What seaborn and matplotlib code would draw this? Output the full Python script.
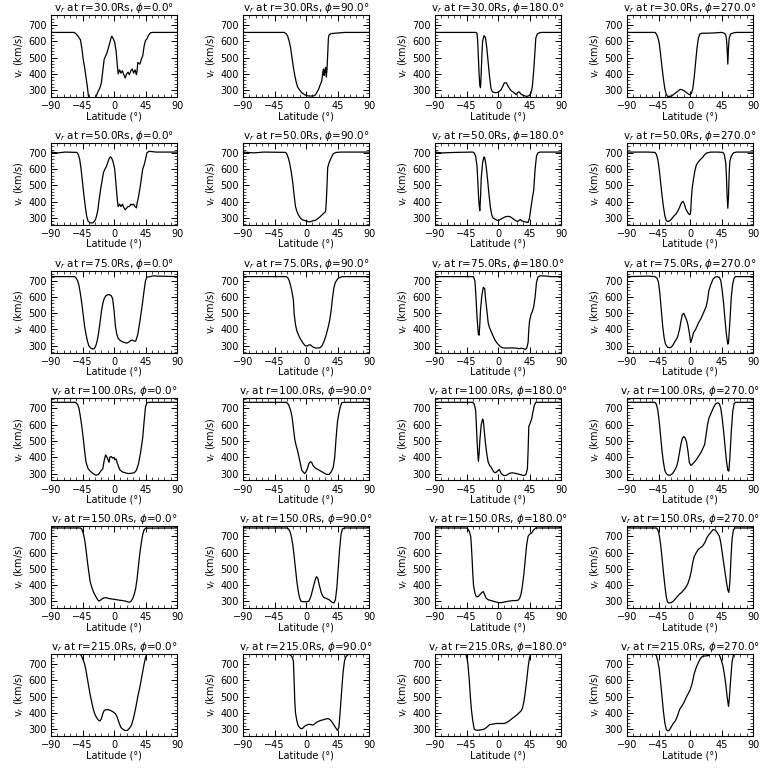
import matplotlib
matplotlib.use("Agg")
import pandas as pd
import matplotlib.pyplot as plt
from matplotlib.ticker import MultipleLocator
import seaborn as sns

# radial speed profiles vs latitude, one list of (latitude, v_r) per panel
radii = [30.0, 50.0, 75.0, 100.0, 150.0, 215.0]
phis = [0.0, 90.0, 180.0, 270.0]

r30_p0 = [(-90, 655), (-57, 655), (-54, 645), (-51, 630), (-48, 610), (-46, 560), (-44, 490), (-42, 440),
          (-40, 380), (-38, 320), (-36.5, 262), (-33, 235), (-28, 235), (-25.5, 262), (-23, 290), (-20, 315),
          (-18, 345), (-16, 420), (-14, 490), (-12, 510), (-10, 530), (-8, 560), (-6, 590), (-4, 625), (-3, 632),
          (-1, 615), (1, 595), (3, 540), (5, 440), (6, 400), (8, 425), (10, 405), (12, 420), (14, 395), (16, 375),
          (18, 400), (20, 410), (22, 395), (24, 420), (26, 430), (28, 405), (30, 425), (32, 395), (33, 420),
          (34, 470), (37, 460), (39, 490), (41, 510), (43, 570), (45, 605), (47, 615), (49, 635), (52, 652),
          (55, 655), (90, 655)]
r30_p90 = [(-90, 655), (-31, 655), (-28, 645), (-26, 630), (-24, 600), (-22, 560), (-20, 500), (-18, 440),
           (-16, 390), (-14, 350), (-12, 320), (-9, 300), (-6, 285), (-3, 275), (0, 268), (3, 265), (6, 264),
           (9, 264), (12, 266), (14, 275), (16, 290), (18, 305), (20, 330), (22, 350), (23, 370), (24, 410),
           (25, 430), (26, 390), (27, 420), (28, 440), (29, 380), (30, 430), (31, 520), (32, 620), (33, 640),
           (36, 648), (42, 650), (55, 655), (90, 655)]
r30_p180 = [(-90, 655), (-32, 655), (-30, 650), (-29, 600), (-28, 500), (-27, 400), (-26, 330), (-25, 315),
            (-24, 400), (-23, 520), (-22, 600), (-20, 635), (-18, 625), (-16, 560), (-14, 470), (-12, 380),
            (-10, 310), (-8, 290), (-5, 285), (-2, 285), (1, 290), (4, 300), (7, 325), (9, 345), (12, 345),
            (15, 320), (18, 300), (21, 290), (24, 280), (26, 272), (28, 285), (30, 290), (32, 280), (34, 272),
            (36, 268), (38, 265), (41, 262), (44, 265), (47, 280), (49, 320), (51, 420), (53, 550), (54, 620),
            (56, 645), (59, 652), (62, 655), (90, 655)]
r30_p270 = [(-90, 655), (-50, 655), (-48, 645), (-46, 625), (-44, 590), (-42, 520), (-40, 440), (-38, 370),
            (-36, 310), (-34, 275), (-32, 262), (-29, 262), (-26, 265), (-23, 275), (-20, 285), (-17, 295),
            (-14, 305), (-11, 302), (-8, 295), (-5, 285), (-2, 275), (0, 272), (2, 280), (4, 310), (6, 380),
            (8, 470), (10, 560), (12, 620), (14, 645), (17, 650), (25, 650), (35, 652), (45, 655), (49, 650),
            (51, 640), (52, 620), (53, 560), (54, 460), (55, 560), (56, 620), (58, 645), (62, 652), (66, 655),
            (90, 655)]

r50_p0 = [(-90, 705), (-80, 700), (-70, 705), (-53, 703), (-51, 690), (-49, 660), (-47, 600), (-45, 520),
          (-43, 440), (-41, 370), (-39, 310), (-37, 280), (-34, 270), (-30, 270), (-27, 285), (-25, 310),
          (-23, 350), (-21, 420), (-19, 480), (-17, 530), (-15, 580), (-13, 600), (-11, 615), (-9, 640),
          (-7, 665), (-5, 676), (-3, 665), (-1, 640), (1, 600), (3, 500), (5, 400), (6, 370), (8, 385), (10, 370),
          (12, 385), (14, 365), (16, 350), (18, 360), (20, 370), (22, 370), (24, 385), (26, 380), (28, 385),
          (30, 370), (32, 362), (33, 390), (35, 430), (37, 480), (39, 540), (41, 600), (43, 625), (45, 660),
          (47, 700), (50, 710), (60, 705), (90, 705)]
r50_p90 = [(-90, 705), (-75, 700), (-60, 705), (-29, 703), (-27, 690), (-25, 665), (-23, 630), (-21, 580),
           (-19, 520), (-17, 440), (-15, 370), (-13, 340), (-11, 320), (-8, 300), (-5, 288), (-2, 285), (1, 280),
           (4, 276), (7, 278), (10, 283), (13, 285), (16, 293), (19, 303), (22, 315), (25, 328), (28, 340),
           (29, 400), (30, 500), (31, 610), (33, 640), (36, 670), (39, 695), (43, 703), (50, 705), (90, 705)]
r50_p180 = [(-90, 705), (-80, 700), (-60, 703), (-36, 705), (-34, 700), (-32, 680), (-30, 620), (-29, 540),
            (-28, 450), (-27, 380), (-26, 345), (-25, 420), (-24, 540), (-22, 640), (-20, 675), (-19, 670),
            (-17, 620), (-15, 540), (-13, 450), (-11, 370), (-9, 320), (-7, 300), (-4, 292), (-1, 285), (2, 287),
            (5, 295), (8, 302), (11, 308), (14, 310), (17, 308), (20, 300), (23, 290), (26, 282), (28, 278),
            (30, 285), (32, 290), (34, 282), (37, 278), (40, 275), (43, 272), (45, 300), (47, 360), (49, 420),
            (51, 470), (53, 600), (55, 680), (57, 700), (60, 705), (90, 705)]
r50_p270 = [(-90, 705), (-60, 705), (-50, 703), (-48, 690), (-46, 660), (-44, 600), (-42, 520), (-40, 440),
            (-38, 370), (-36, 315), (-34, 285), (-32, 278), (-29, 282), (-26, 295), (-23, 312), (-20, 325),
            (-17, 345), (-14, 375), (-12, 395), (-10, 402), (-8, 385), (-6, 355), (-4, 340), (-2, 325), (0, 320),
            (1, 340), (2, 420), (3, 480), (5, 540), (7, 590), (9, 625), (12, 645), (15, 660), (18, 672),
            (21, 690), (24, 700), (30, 705), (40, 705), (47, 703), (49, 690), (51, 640), (52, 560), (53, 440),
            (54, 360), (55, 430), (56, 580), (57, 650), (59, 680), (62, 700), (66, 705), (90, 705)]

r75_p0 = [(-90, 725), (-56, 725), (-54, 715), (-52, 700), (-50, 670), (-48, 620), (-46, 560), (-44, 490),
          (-42, 420), (-40, 370), (-38, 330), (-36, 300), (-33, 285), (-30, 280), (-28, 283), (-26, 300),
          (-24, 330), (-22, 380), (-20, 440), (-18, 510), (-16, 560), (-14, 590), (-12, 605), (-10, 612),
          (-7, 615), (-4, 608), (-2, 590), (0, 520), (2, 420), (4, 370), (6, 345), (9, 332), (12, 325),
          (15, 320), (18, 316), (21, 322), (24, 333), (26, 335), (28, 330), (31, 328), (34, 370), (37, 450),
          (40, 540), (43, 640), (45, 700), (47, 722), (52, 725), (56, 730), (62, 728), (90, 725)]
r75_p90 = [(-90, 725), (-28, 725), (-26, 718), (-24, 700), (-22, 670), (-20, 630), (-18, 580), (-17, 500),
           (-15, 430), (-13, 390), (-11, 370), (-9, 350), (-7, 335), (-4, 315), (-1, 300), (2, 298), (4, 305),
           (6, 306), (8, 300), (10, 292), (13, 287), (17, 286), (20, 288), (23, 300), (26, 330), (29, 370),
           (32, 420), (34, 460), (36, 520), (38, 600), (40, 660), (42, 690), (45, 710), (48, 720), (52, 725),
           (90, 725)]
r75_p180 = [(-90, 725), (-35, 725), (-33, 700), (-32, 640), (-31, 560), (-30, 480), (-29, 420), (-28, 370),
            (-27, 365), (-26, 430), (-25, 520), (-23, 610), (-21, 660), (-19, 650), (-18, 600), (-16, 520),
            (-14, 440), (-12, 410), (-10, 390), (-8, 370), (-5, 340), (-2, 320), (1, 305), (4, 293), (7, 287),
            (10, 286), (15, 286), (20, 287), (25, 286), (28, 284), (30, 282), (33, 285), (36, 282), (39, 278),
            (41, 285), (43, 320), (44, 400), (45, 450), (47, 490), (49, 510), (51, 540), (53, 600), (55, 690),
            (57, 722), (60, 730), (70, 728), (75, 725), (90, 725)]
r75_p270 = [(-90, 725), (-60, 728), (-50, 725), (-47, 715), (-45, 690), (-43, 620), (-41, 520), (-39, 420),
            (-37, 350), (-35, 310), (-32, 290), (-28, 288), (-25, 300), (-21, 330), (-18, 350), (-15, 400),
            (-13, 450), (-11, 490), (-9, 500), (-7, 480), (-5, 460), (-3, 430), (-1, 380), (1, 320), (3, 345),
            (5, 380), (8, 400), (12, 440), (16, 470), (20, 510), (23, 540), (25, 580), (27, 640), (30, 680),
            (33, 710), (36, 722), (39, 725), (42, 720), (44, 700), (46, 640), (48, 560), (50, 460), (52, 370),
            (54, 310), (55, 320), (57, 450), (59, 600), (61, 680), (63, 715), (65, 725), (90, 725)]

r100_p0 = [(-90, 738), (-55, 738), (-52, 725), (-50, 700), (-48, 650), (-46, 590), (-44, 520), (-42, 440),
           (-40, 370), (-37, 330), (-34, 315), (-30, 300), (-26, 290), (-22, 295), (-19, 315), (-16, 330),
           (-14, 380), (-12, 415), (-10, 400), (-8, 380), (-7, 370), (-6, 400), (-4, 405), (-2, 395), (0, 400),
           (1, 385), (3, 390), (5, 360), (8, 325), (12, 310), (16, 305), (20, 300), (25, 302), (29, 305),
           (32, 320), (35, 360), (38, 430), (41, 520), (43, 620), (45, 710), (47, 735), (50, 738), (90, 738)]
r100_p90 = [(-90, 738), (-28, 738), (-25, 725), (-22, 690), (-20, 650), (-18, 580), (-16, 510), (-14, 470),
            (-12, 440), (-10, 400), (-8, 360), (-6, 320), (-4, 310), (-2, 300), (0, 310), (2, 330), (4, 360),
            (6, 372), (8, 370), (10, 350), (13, 335), (17, 325), (21, 315), (25, 305), (29, 295), (33, 295),
            (36, 310), (39, 340), (41, 400), (43, 520), (45, 620), (47, 670), (49, 710), (51, 735), (54, 738),
            (90, 738)]
r100_p180 = [(-90, 738), (-36, 738), (-34, 728), (-32, 690), (-31, 610), (-30, 510), (-29, 430), (-28, 375),
             (-27, 420), (-26, 500), (-24, 600), (-22, 635), (-21, 625), (-20, 580), (-18, 490), (-16, 420),
             (-14, 370), (-12, 350), (-10, 340), (-8, 325), (-6, 310), (-4, 305), (-2, 310), (0, 318), (2, 325),
             (4, 305), (6, 295), (8, 288), (11, 288), (14, 295), (17, 302), (20, 305), (23, 303), (26, 300),
             (29, 297), (32, 293), (35, 290), (38, 288), (40, 295), (42, 330), (43, 440), (44, 590), (46, 610),
             (48, 635), (50, 680), (52, 720), (54, 738), (90, 738)]
r100_p270 = [(-90, 738), (-50, 738), (-48, 725), (-46, 690), (-44, 620), (-42, 530), (-40, 440), (-38, 370),
             (-36, 320), (-34, 300), (-31, 290), (-28, 290), (-25, 300), (-22, 320), (-19, 345), (-17, 380),
             (-15, 430), (-13, 480), (-11, 515), (-9, 528), (-7, 520), (-5, 495), (-3, 440), (-1, 370), (1, 350),
             (3, 355), (6, 370), (9, 385), (12, 405), (15, 425), (18, 450), (21, 480), (23, 540), (25, 600),
             (27, 640), (29, 660), (31, 680), (34, 710), (37, 730), (40, 735), (42, 728), (44, 700), (46, 640),
             (48, 560), (50, 470), (52, 380), (54, 320), (55.5, 315), (57, 400), (59, 560), (61, 680), (63, 730),
             (65, 738), (90, 738)]

r150_p0 = [(-90, 751), (-48, 751), (-46, 745), (-44, 720), (-42, 680), (-40, 620), (-38, 545), (-36, 480),
           (-34, 420), (-32, 390), (-30, 365), (-28, 345), (-26, 330), (-24, 315), (-22, 302), (-20, 305),
           (-18, 312), (-16, 318), (-14, 322), (-11, 322), (-8, 318), (-5, 316), (-2, 314), (1, 312), (4, 310),
           (8, 307), (12, 305), (16, 302), (19, 298), (21, 295), (23, 296), (25, 305), (27, 320), (29, 345),
           (31, 380), (33, 440), (35, 520), (37, 600), (39, 660), (41, 710), (43, 740), (45, 750), (90, 751)]
r150_p90 = [(-90, 751), (-27, 751), (-25, 745), (-23, 730), (-21, 700), (-19, 650), (-17, 580), (-15, 500),
            (-13, 420), (-11, 360), (-9, 320), (-7, 300), (-4, 298), (0, 298), (4, 300), (7, 330), (10, 380),
            (13, 430), (15, 452), (17, 440), (19, 400), (22, 350), (25, 325), (29, 318), (33, 310), (37, 295),
            (40, 290), (42, 310), (44, 380), (46, 500), (48, 620), (50, 710), (52, 745), (55, 751), (90, 751)]
r150_p180 = [(-90, 751), (-45, 751), (-43, 745), (-41, 730), (-39, 700), (-38, 640), (-37, 560), (-36, 470),
             (-35, 400), (-33, 350), (-31, 330), (-29, 328), (-27, 335), (-25, 345), (-23, 355), (-21, 360),
             (-19, 340), (-17, 320), (-14, 310), (-10, 305), (-6, 300), (-2, 295), (2, 292), (6, 293), (10, 297),
             (14, 300), (18, 303), (22, 305), (26, 305), (29, 308), (31, 320), (33, 345), (35, 400), (37, 470),
             (39, 560), (41, 650), (43, 700), (45, 712), (48, 720), (51, 740), (54, 751), (90, 751)]
r150_p270 = [(-90, 751), (-48, 751), (-46, 740), (-44, 710), (-42, 650), (-40, 570), (-38, 480), (-36, 400),
             (-34, 330), (-32, 295), (-30, 290), (-27, 292), (-24, 300), (-21, 315), (-18, 330), (-15, 345),
             (-12, 355), (-9, 370), (-6, 385), (-3, 410), (0, 450), (2, 490), (4, 540), (6, 575), (9, 600),
             (12, 620), (15, 630), (18, 640), (21, 660), (24, 690), (27, 710), (30, 725), (33, 742), (36, 738),
             (39, 722), (42, 700), (44, 660), (46, 600), (48, 540), (50, 480), (52, 420), (54, 370), (55.5, 355),
             (57, 420), (58.5, 560), (60, 680), (62, 740), (64, 751), (90, 751)]

r215_p0 = [(-90, 762), (-48, 762), (-46, 745), (-44, 725), (-42, 700), (-40, 660), (-38, 610), (-36, 560),
           (-34, 510), (-32, 470), (-30, 430), (-28, 400), (-26, 380), (-24, 365), (-22, 355), (-20, 350),
           (-18, 365), (-16, 395), (-14, 415), (-11, 420), (-8, 420), (-5, 415), (-2, 408), (0, 402), (2, 395),
           (4, 380), (6, 355), (8, 330), (10, 310), (13, 298), (16, 292), (19, 292), (22, 305), (25, 325),
           (28, 370), (31, 430), (34, 500), (37, 560), (40, 630), (43, 700), (45, 740), (47, 762), (90, 762)]
r215_p90 = [(-90, 762), (-26, 762), (-23, 758), (-20, 745), (-18, 720), (-17, 600), (-16, 470), (-15, 400),
            (-13, 350), (-11, 320), (-9, 310), (-7, 302), (-5, 305), (-2, 318), (1, 325), (4, 330), (7, 328),
            (10, 325), (13, 335), (16, 345), (19, 350), (22, 355), (25, 358), (28, 362), (31, 365), (34, 360),
            (37, 345), (40, 325), (43, 305), (45, 292), (47, 310), (49, 420), (51, 540), (53, 650), (55, 720),
            (57, 745), (60, 758), (62, 762), (90, 762)]
r215_p180 = [(-90, 762), (-46, 762), (-44, 730), (-43, 700), (-41, 600), (-39.5, 500), (-38, 420), (-36, 350),
             (-34, 300), (-32, 295), (-29, 293), (-26, 295), (-23, 297), (-20, 300), (-17, 308), (-14, 320),
             (-12, 328), (-9, 330), (-6, 332), (-3, 335), (0, 335), (3, 335), (6, 335), (9, 335), (12, 340),
             (15, 348), (18, 358), (21, 368), (24, 378), (27, 388), (30, 400), (33, 412), (35, 430), (37, 470),
             (39, 530), (41, 600), (43, 680), (45, 740), (47, 762), (90, 762)]
r215_p270 = [(-90, 762), (-50, 762), (-48, 750), (-46, 720), (-44, 670), (-42, 590), (-40, 500), (-38, 410),
             (-36, 340), (-34, 300), (-32, 290), (-30, 292), (-28, 305), (-26, 320), (-24, 335), (-21, 350),
             (-18, 380), (-15, 420), (-12, 440), (-9, 460), (-6, 490), (-3, 515), (0, 540), (3, 580), (6, 640),
             (9, 680), (12, 710), (15, 735), (18, 748), (22, 750), (26, 752), (29, 760), (32, 762), (41, 762),
             (43, 745), (45, 720), (47, 690), (49, 640), (51, 580), (53, 500), (55, 440), (56, 480), (58, 600),
             (60, 710), (62, 755), (64, 762), (90, 762)]

panels = [
    [r30_p0, r30_p90, r30_p180, r30_p270],
    [r50_p0, r50_p90, r50_p180, r50_p270],
    [r75_p0, r75_p90, r75_p180, r75_p270],
    [r100_p0, r100_p90, r100_p180, r100_p270],
    [r150_p0, r150_p90, r150_p180, r150_p270],
    [r215_p0, r215_p90, r215_p180, r215_p270],
]

sns.set_style("ticks")
plt.rcParams['font.family'] = ['DejaVu Sans']
plt.rcParams['font.size'] = 7
for key in ['text.color', 'axes.labelcolor', 'xtick.color', 'ytick.color', 'axes.edgecolor']:
    plt.rcParams[key] = 'black'

fig = plt.figure(figsize=(7.68, 7.68), dpi=100)
W = 768.0
col_left = [51, 243, 435, 627]

for i, r in enumerate(radii):
    top = 15 + 127.8 * i
    for j, phi in enumerate(phis):
        ax = fig.add_axes([col_left[j] / W, 1 - (top + 82) / W, 126 / W, 82 / W])
        df = pd.DataFrame(panels[i][j], columns=['lat', 'vr'])
        sns.lineplot(data=df, x='lat', y='vr', ax=ax, color='black', lw=0.9,
                     sort=False, estimator=None)
        ax.set_xlim(-90, 90)
        ax.set_ylim(258, 762)
        ax.set_xticks([-90, -45, 0, 45, 90])
        ax.set_yticks([300, 400, 500, 600, 700])
        ax.xaxis.set_minor_locator(MultipleLocator(9))
        ax.yaxis.set_minor_locator(MultipleLocator(20))
        ax.tick_params(which='both', direction='in', top=True, right=True, labelsize=7, pad=3,
                       colors='black')
        ax.tick_params(which='major', length=4, width=0.7)
        ax.tick_params(which='minor', length=2, width=0.5)
        for s in ax.spines.values():
            s.set_linewidth(0.8)
            s.set_color('black')
        ax.set_title(f"v$_r$ at r={r:.1f}Rs, $\\phi$={phi:.1f}°", fontsize=7.5, pad=2, color='black')
        ax.set_xlabel("Latitude (°)", fontsize=7, labelpad=0)
        ax.set_ylabel("v$_r$ (km/s)", fontsize=7, labelpad=2)

fig.savefig("out.png", dpi=100, facecolor='white')
